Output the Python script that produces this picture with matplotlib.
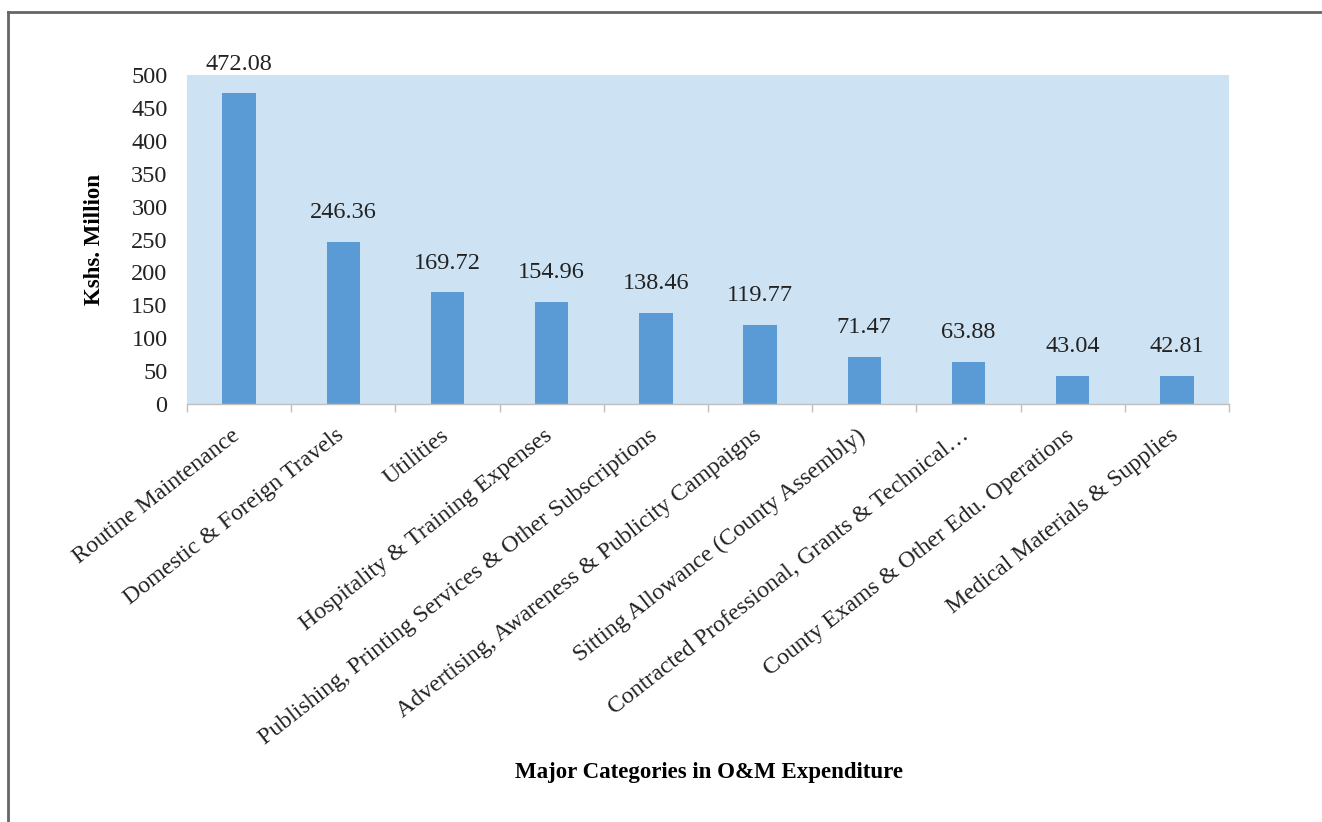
import matplotlib
matplotlib.use("Agg")
import matplotlib.pyplot as plt
from matplotlib.lines import Line2D
import matplotlib.transforms as mtransforms
import numpy as np

categories = [
    "Routine Maintenance",
    "Domestic & Foreign Travels",
    "Utilities",
    "Hospitality & Training Expenses",
    "Publishing, Printing Services & Other Subscriptions",
    "Advertising, Awareness & Publicity Campaigns",
    "Sitting Allowance (County Assembly)",
    "Contracted Professional, Grants & Technical\u2026",
    "County Exams & Other Edu. Operations",
    "Medical Materials & Supplies",
]
values = [472.08, 246.36, 169.72, 154.96, 138.46, 119.77, 71.47, 63.88, 43.04, 42.81]
value_labels = ["472.08", "246.36", "169.72", "154.96", "138.46", "119.77", "71.47", "63.88", "43.04", "42.81"]
yticks = [0, 50, 100, 150, 200, 250, 300, 350, 400, 450, 500]

plt.rcParams['font.family'] = ['Liberation Serif', 'DejaVu Serif']

fig = plt.figure(figsize=(13.22, 8.22), dpi=100)
ax = fig.add_axes([187/1322, 1-404/822, (1229-187)/1322, (404-75)/822])
ax.set_facecolor('#CDE2F2')

x = np.arange(len(categories))
ax.bar(x, values, width=0.32, color='#5B9BD5', zorder=2)
for xi, v, lab in zip(x, values, value_labels):
    ax.annotate(lab, (xi, v), xytext=(0, 13.5), textcoords='offset points',
                ha='center', va='bottom', fontsize=17.5, color='#222222')

ax.set_xlim(-0.5, len(categories) - 0.5)
ax.set_ylim(0, 500)
ax.set_yticks(yticks)
ax.set_yticklabels([str(t) for t in yticks], fontsize=17.5, color='#222222')
ax.tick_params(axis='y', length=0, pad=14)

ax.set_xticks(x)
ax.set_xticklabels(categories, rotation=38, ha='right', va='top', fontsize=17.2, color='#222222')
ax.tick_params(axis='x', which='major', length=0, pad=15)
shift = mtransforms.ScaledTranslation(5/100, 0, fig.dpi_scale_trans)
for lbl in ax.get_xticklabels():
    lbl.set_transform(lbl.get_transform() + shift)
ax.set_xticks(np.arange(len(categories) + 1) - 0.5, minor=True)
ax.tick_params(axis='x', which='minor', length=6, width=1, color='#BFBFBF', direction='out')

for s in ['top', 'right', 'left']:
    ax.spines[s].set_visible(False)
ax.spines['bottom'].set_color('#BFBFBF')
ax.spines['bottom'].set_linewidth(1)

ax.set_ylabel('Kshs. Million', fontsize=16.5, fontweight='bold')
ax.yaxis.set_label_coords((105-187)/1042, 0.5)
fig.text(709/1322, 1-772/822, 'Major Categories in O&M Expenditure', ha='center', va='center',
         fontsize=16.5, fontweight='bold')

# figure frame (top and left)
fig.add_artist(Line2D([8/1322, 1], [1-12/822, 1-12/822], transform=fig.transFigure, color='#666666', lw=2))
fig.add_artist(Line2D([8/1322, 8/1322], [0, 1-12/822], transform=fig.transFigure, color='#666666', lw=2))

fig.savefig('out.png', dpi=100)
